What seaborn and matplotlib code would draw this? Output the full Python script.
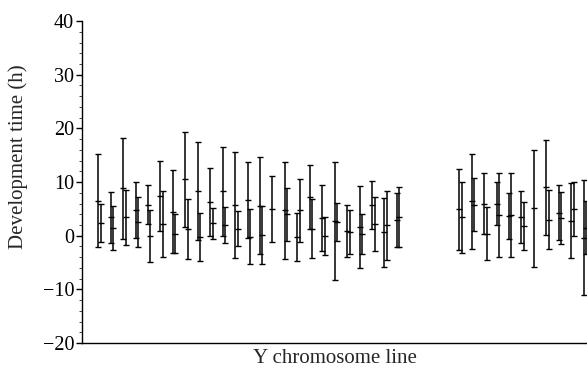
import numpy as np
import pandas as pd
import matplotlib
matplotlib.use("Agg")
import matplotlib.pyplot as plt
import seaborn as sns

nan = np.nan

# Y chromosome lines (slots 26-29 have no data)
lines = list(range(1, 41))
mean_a = [6.5, 3.4, 8.8, 4.8, 5.8, 7.4, 4.5, 10.5, 8.3, 6.3,
          8.3, 5.7, 6.6, 5.6, 5.0, 4.7, -0.3, 7.2, 3.3, 2.7,
          0.9, 1.6, 5.7, 0.6, 2.9, nan, nan, nan, nan, 4.9,
          6.4, 6.0, 6.0, 3.7, 3.5, 5.1, 9.0, 4.3, 2.8, -0.4]
err_a = [8.7, 4.7, 9.5, 5.3, 3.6, 6.6, 7.8, 8.8, 9.1, 6.3,
         8.3, 9.9, 7.1, 9.0, 6.2, 9.1, 4.5, 6.0, 6.2, 11.0,
         4.8, 7.7, 4.5, 6.5, 5.1, nan, nan, nan, nan, 7.5,
         8.9, 5.7, 4.1, 4.3, 4.9, 10.9, 8.9, 5.1, 7.0, 10.7]
mean_b = [2.4, 1.4, 3.4, 2.5, -0.1, 2.2, 0.4, 1.2, -0.2, 2.3,
          2.0, 1.3, -0.2, 0.2, nan, 4.0, 4.7, 1.3, -0.1, 2.6,
          0.6, 0.3, 2.2, 1.9, 3.5, nan, nan, nan, nan, 3.4,
          5.8, 0.4, 3.9, 3.9, 1.8, nan, 3.0, 3.3, 5.0, 1.5]
err_b = [3.5, 4.1, 5.2, 4.7, 4.8, 6.1, 3.7, 5.6, 4.5, 2.9,
         3.3, 3.3, 5.1, 5.4, nan, 4.9, 5.9, 5.5, 3.5, 3.5,
         4.1, 3.8, 5.0, 6.5, 5.6, nan, nan, nan, nan, 6.7,
         4.9, 4.9, 7.8, 7.8, 4.5, nan, 5.5, 4.9, 5.1, 5.0]

df = pd.DataFrame({"line": lines, "mean_a": mean_a, "err_a": err_a,
                   "mean_b": mean_b, "err_b": err_b})

sns.set_style("ticks")
plt.rcParams["font.family"] = ["Liberation Serif", "DejaVu Serif"]

fig = plt.figure(figsize=(5.87, 3.70), dpi=100)
ax = fig.add_axes([0.1405, 0.073, 0.8595, 0.870])

for col, shift in [("a", 0.0), ("b", 0.2)]:
    sub = df.dropna(subset=["mean_" + col])
    ax.errorbar(sub["line"] + shift, sub["mean_" + col], yerr=sub["err_" + col],
                fmt="_", color="black", ecolor="black", elinewidth=1.1,
                capsize=2, capthick=1.1, markersize=4, markeredgewidth=1.0)

ax.set_xlim(-0.26, 40.27)
ax.set_ylim(-20, 40)
ax.set_yticks(range(-20, 41, 10))
ax.set_yticklabels([str(v).replace("-", "\u2212") for v in range(-20, 41, 10)])
ax.yaxis.set_minor_locator(matplotlib.ticker.MultipleLocator(2))
ax.set_xticks([])
ax.tick_params(axis="y", which="major", length=4, width=1, labelsize=14.5, pad=2, colors="black")
ax.tick_params(axis="y", which="minor", length=2, width=0.6)
ax.set_ylabel("Development time (h)", fontsize=15)
ax.yaxis.set_label_coords(-0.108, 0.58)
ax.set_xlabel("Y chromosome line", fontsize=15, labelpad=4)
sns.despine(ax=ax)
for s in ["left", "bottom"]:
    ax.spines[s].set_color("black")
    ax.spines[s].set_linewidth(1.0)

fig.savefig("out.png", dpi=100)
